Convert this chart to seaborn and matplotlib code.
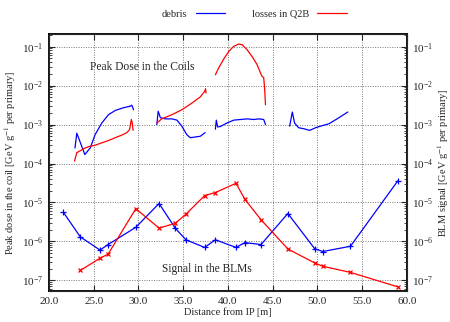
import numpy as np
import pandas as pd
import matplotlib
matplotlib.use("Agg")
import matplotlib.pyplot as plt
from matplotlib.lines import Line2D
from matplotlib.ticker import LogLocator, FormatStrFormatter, NullFormatter
import seaborn as sns

# Peak dose in the coils, debris (blue), one array pair per magnet
debris_coil_x1 = [22.9, 23.1, 23.45, 24.0, 24.6, 25.15, 25.9, 26.65, 27.4, 28.3, 29.05, 29.25, 29.45]
debris_coil_y1 = [2.5e-4, 6.0e-4, 3.7e-4, 1.7e-4, 2.5e-4, 5.5e-4, 1.1e-3, 1.8e-3, 2.3e-3, 2.7e-3, 2.95e-3, 3.15e-3, 2.4e-3]
debris_coil_x2 = [32.05, 32.2, 32.45, 33.0, 33.75, 34.3, 34.85, 35.4, 35.8, 36.35, 36.9, 37.45]
debris_coil_y2 = [1.0e-3, 2.2e-3, 1.5e-3, 1.4e-3, 1.4e-3, 1.3e-3, 9.1e-4, 5.5e-4, 4.6e-4, 4.8e-4, 5.0e-4, 6.2e-4]
debris_coil_x3 = [38.6, 38.7, 38.85, 39.15, 39.9, 40.65, 41.4, 42.15, 42.9, 43.45, 44.0, 44.2]
debris_coil_y3 = [7.6e-4, 1.3e-3, 8.7e-4, 8.9e-4, 1.1e-3, 1.3e-3, 1.35e-3, 1.4e-3, 1.35e-3, 1.4e-3, 1.35e-3, 1.0e-3]
debris_coil_x4 = [46.9, 47.2, 47.45, 47.9, 48.5, 49.15, 49.8, 50.35, 51.3, 52.2, 52.95, 53.4]
debris_coil_y4 = [9.1e-4, 2.1e-3, 1.1e-3, 8.3e-4, 7.8e-4, 7.1e-4, 8.3e-4, 9.1e-4, 1.05e-3, 1.4e-3, 1.8e-3, 2.1e-3]

# Peak dose in the coils, losses in Q2B (red)
losses_coil_x1 = [22.85, 23.1, 23.45, 23.85, 24.4, 25.15, 25.9, 26.65, 27.4, 28.15, 28.7, 29.0, 29.2, 29.3, 29.4]
losses_coil_y1 = [1.15e-4, 1.9e-4, 2.1e-4, 2.4e-4, 2.7e-4, 2.95e-4, 3.4e-4, 3.9e-4, 4.6e-4, 5.4e-4, 6.2e-4, 7.4e-4, 1.35e-3, 1.1e-3, 7.1e-4]
losses_coil_x2 = [32.05, 32.6, 33.75, 34.85, 36.0, 36.9, 37.4, 37.5, 37.55]
losses_coil_y2 = [1.1e-3, 1.4e-3, 1.8e-3, 2.4e-3, 3.6e-3, 5.1e-3, 7.1e-3, 8.3e-3, 6.5e-3]
losses_coil_x3 = [38.6, 38.95, 39.5, 40.1, 40.65, 41.2, 41.6, 42.15, 42.7, 43.25, 43.65, 43.8, 44.0, 44.1, 44.2]
losses_coil_y3 = [1.9e-2, 2.8e-2, 4.7e-2, 7.6e-2, 0.102, 0.117, 0.112, 8.3e-2, 5.6e-2, 3.5e-2, 2.1e-2, 1.75e-2, 1.6e-2, 8.7e-3, 3.2e-3]

# Signal in the BLMs
blm_x = [21.6, 23.5, 25.7, 26.6, 29.7, 32.3, 34.1, 35.3, 37.4, 38.6, 40.9, 41.9, 43.7, 46.7, 49.7, 50.6, 53.7, 59.0]
blm_debris = [5.6e-6, 1.3e-6, 6.0e-7, 8.3e-7, 2.3e-6, 9.4e-6, 2.2e-6, 1.1e-6, 7.0e-7, 1.1e-6, 7.0e-7, 9.3e-7,
              8.3e-7, 5.2e-6, 6.5e-7, 5.5e-7, 7.5e-7, 3.6e-5]
blm_losses = [1.8e-7, 3.7e-7, 4.7e-7, 6.9e-6, 2.2e-6, 2.9e-6, 5.0e-6, 1.5e-5, 1.8e-5, 3.1e-5, 1.2e-5,
              3.6e-6, 6.4e-7, 2.8e-7, 2.3e-7, 1.6e-7, 6.8e-8]

sns.set_style("ticks")
plt.rcParams["font.family"] = ["Liberation Serif", "DejaVu Serif"]
plt.rcParams["mathtext.fontset"] = "stix"
fs = 7.5
tfs = 8

fig = plt.figure(figsize=(4.5, 3.22), dpi=100)
ax = fig.add_axes([0.109, 0.095, 0.795, 0.799])

blue = "#0000ff"
red = "#ff0000"

debris_segs = [(debris_coil_x1, debris_coil_y1), (debris_coil_x2, debris_coil_y2),
               (debris_coil_x3, debris_coil_y3), (debris_coil_x4, debris_coil_y4)]
losses_segs = [(losses_coil_x1, losses_coil_y1), (losses_coil_x2, losses_coil_y2),
               (losses_coil_x3, losses_coil_y3)]

for xs, ys in debris_segs:
    sns.lineplot(x=xs, y=ys, ax=ax, color=blue, lw=0.9, sort=False, estimator=None)
for xs, ys in losses_segs:
    sns.lineplot(x=xs, y=ys, ax=ax, color=red, lw=0.9, sort=False, estimator=None)

sns.lineplot(x=blm_x, y=blm_debris, ax=ax, color=blue, lw=0.9, marker="+", markersize=4,
             markeredgewidth=0.9, markeredgecolor=blue, sort=False, estimator=None)
sns.lineplot(x=blm_x[1:], y=blm_losses, ax=ax, color=red, lw=0.9, marker="x", markersize=3.5,
             markeredgewidth=0.9, markeredgecolor=red, sort=False, estimator=None)

ax.set_yscale("log")
ax.set_xlim(20, 60)
ax.set_ylim(5.2e-8, 0.21)
ax.set_xticks(np.arange(20, 61, 5))
ax.xaxis.set_major_formatter(FormatStrFormatter("%.1f"))
ax.yaxis.set_major_locator(LogLocator(base=10, numticks=20))
ax.yaxis.set_minor_locator(LogLocator(base=10, subs=np.arange(2, 10), numticks=20))
ax.yaxis.set_minor_formatter(NullFormatter())

ax.grid(True, which="major", linestyle=(0, (1, 1.5)), color="#777777", linewidth=0.7)
ax.tick_params(which="both", direction="in", top=True, labelsize=tfs, pad=4)
ax.tick_params(which="major", length=4, width=0.8)
ax.tick_params(which="minor", length=2, width=0.6)
for sp in ax.spines.values():
    sp.set_linewidth(1.3)
    sp.set_color("black")

ax2 = ax.twinx()
ax2.set_yscale("log")
ax2.set_ylim(ax.get_ylim())
ax2.yaxis.set_major_locator(LogLocator(base=10, numticks=20))
ax2.yaxis.set_minor_locator(LogLocator(base=10, subs=np.arange(2, 10), numticks=20))
ax2.yaxis.set_minor_formatter(NullFormatter())
ax2.tick_params(which="both", direction="in", labelsize=tfs, pad=4)
ax2.tick_params(which="major", length=4, width=0.8)
ax2.tick_params(which="minor", length=2, width=0.6)
ax2.xaxis.set_visible(False)
ax.xaxis.get_offset_text().set_visible(False)

ax.set_xlabel("Distance from IP [m]", fontsize=fs, labelpad=1)
ax.set_ylabel("Peak dose in the coil [GeV g$^{-1}$ per primary]", fontsize=fs, labelpad=3)
ax2.set_ylabel("BLM signal [GeV g$^{-1}$ per primary]", fontsize=fs, labelpad=1.5)

ax.text(30.4, 10 ** -1.51, "Peak Dose in the Coils", fontsize=8.3, ha="center", va="center")
ax.text(37.6, 10 ** -6.72, "Signal in the BLMs", fontsize=8.3, ha="center", va="center")

handles = [Line2D([], [], color=blue, lw=0.9), Line2D([], [], color=red, lw=0.9)]
fig.legend(handles, ["debris", "losses in Q2B"], loc="upper center", bbox_to_anchor=(0.565, 1.0),
           ncol=2, frameon=False, markerfirst=False, fontsize=fs, handlelength=2.8,
           columnspacing=2.6, handletextpad=0.8)

fig.savefig("out.png", dpi=100)
